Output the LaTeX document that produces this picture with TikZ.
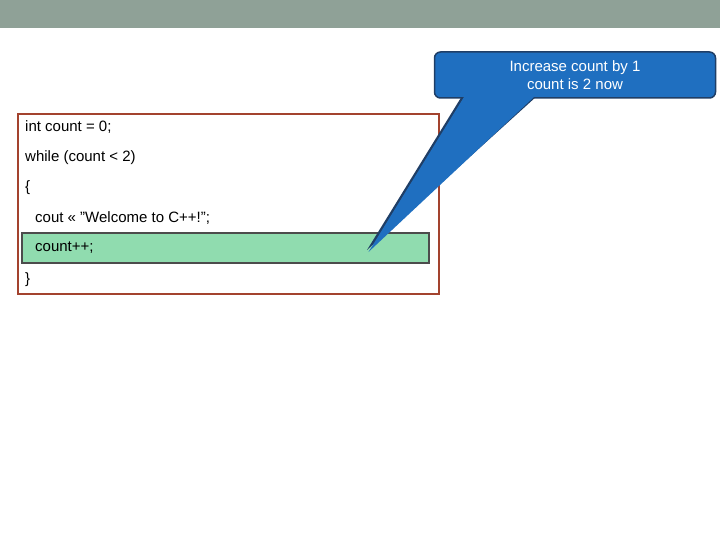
\documentclass[tikz,border=0pt]{standalone}
\usepackage{fontspec}
\setmainfont{Liberation Sans}
\definecolor{topbar}{HTML}{8FA197}
\definecolor{codeframe}{HTML}{A3432E}
\definecolor{hilite}{HTML}{90DCAF}
\definecolor{callfill}{HTML}{1F6FC0}
\definecolor{callline}{HTML}{1F3E66}
\tikzstyle{codeline} = [anchor=west,inner sep=0pt,font=\fontsize{15}{18}\selectfont]
\tikzstyle{calloutbox} = [draw=callline,fill=callfill,line width=1.5pt,rounded corners=6pt,
  text=white,align=center,font=\fontsize{15}{18}\selectfont,minimum width=281pt,minimum height=46pt]

\begin{document}
\begin{tikzpicture}[x=1pt,y=-1pt]
    \useasboundingbox (0,0) rectangle (720,540);
    \fill [topbar] (0,0) rectangle (720,28);
    \draw [codeframe,line width=2pt] (18,114) rectangle (439,294);
    \draw [fill=hilite,draw=black!70,line width=1.2pt] (22,233) rectangle (429,263);
    \node [codeline] (l1) at (25,127) {int count = 0;};
    \node [codeline] (l2) at (25,158) {while (count < 2)};
    \node [codeline] (l3) at (25,188) {\{};
    \node [codeline] (l4) at (35,218) {cout << "Welcome to C++!";};
    \node [codeline] (l5) at (35,248) {count++;};
    \node [codeline] (l6) at (25,280) {\}};
    \coordinate (tip) at (367,250);
    \fill [callline] (462,96) -- (tip) -- (537,96) -- cycle;
    \node [calloutbox] (note) at (575,75) {Increase count by 1\\count is 2 now};
    \fill [callfill] (464,97) -- ([xshift=1.5pt,yshift=-2pt]tip) -- (534,97) -- cycle;
\end{tikzpicture}
\end{document}
